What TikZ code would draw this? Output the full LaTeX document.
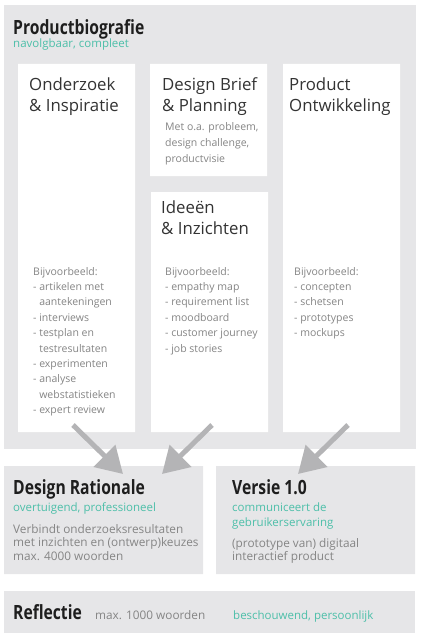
\documentclass[tikz,border=0pt]{standalone}
\usepackage{fontspec}
\setmainfont{Open Sans}
\newfontfamily\headfont[FakeStretch=0.8]{Open Sans}
\usetikzlibrary{arrows.meta}
\definecolor{bgray}{HTML}{E6E6E8}
\definecolor{bioteal}{HTML}{4DBFA9}
\definecolor{txtgray}{HTML}{858585}
\definecolor{arrgray}{HTML}{B4B4B6}
\definecolor{ink}{HTML}{1E1E1E}
\definecolor{darkink}{HTML}{333333}
\begin{document}
\begin{tikzpicture}[x=1pt,y=-1pt,line join=round,
    head/.style={anchor=base west,inner sep=0pt,text=ink,font=\headfont\bfseries\fontsize{19.6}{22}\selectfont},
    sub/.style={anchor=base west,inner sep=0pt,text=bioteal,font=\fontsize{11.5}{15}\selectfont},
    boxtitle/.style={anchor=base west,inner sep=0pt,text=darkink,font=\fontsize{16.8}{21}\selectfont},
    listtext/.style={anchor=base west,inner sep=0pt,text=txtgray,font=\fontsize{10.5}{15}\selectfont},
    bodytext/.style={anchor=base west,inner sep=0pt,text=txtgray,font=\fontsize{11.8}{14}\selectfont},
    arrow/.style={arrgray,line width=5pt,-{Triangle[length=26pt,width=30pt]}}]
\useasboundingbox (0,0) rectangle (420,639);
% Productbiografie
\fill[bgray] (4,5) rectangle (416,449);
\fill[white] (18,64) rectangle (135,432)
             (150,64) rectangle (267,176)
             (151,192) rectangle (268,432)
             (283,64) rectangle (400,432);
\node[head] (bio) at (13,35) {Productbiografie};
\node[sub] (bio-sub) at (13,48) {navolgbaar, compleet};
\node[boxtitle] (oi-a) at (29,91) {Onderzoek};
\node[boxtitle] (oi-b) at (29,112) {\& Inspiratie};
\node[boxtitle] (db-a) at (162,91) {Design Brief};
\node[boxtitle] (db-b) at (162,112) {\& Planning};
\node[boxtitle] (ii-a) at (161,213) {Idee\"en};
\node[boxtitle] (ii-b) at (161,234) {\& Inzichten};
\node[boxtitle] (po-a) at (289,91) {Product};
\node[boxtitle] (po-b) at (289,112) {Ontwikkeling};
\foreach \t [count=\i from 0] in {{Met o.a. probleem,}, {design challenge,}, productvisie}
  \node[listtext] (db-\i) at (165,131+15.6*\i) {\t};
\foreach \t [count=\i from 0] in {Bijvoorbeeld:, - artikelen met, \phantom{- }aantekeningen,
    - interviews, - testplan en, \phantom{- }testresultaten, - experimenten, - analyse,
    \phantom{- }webstatistieken, - expert review}
  \node[listtext] (oi-\i) at (33,275+15.4*\i) {\t};
\foreach \t [count=\i from 0] in {Bijvoorbeeld:, - empathy map, - requirement list,
    - moodboard, - customer journey, - job stories}
  \node[listtext] (ii-\i) at (165,275+15.4*\i) {\t};
\foreach \t [count=\i from 0] in {Bijvoorbeeld:, - concepten, - schetsen,
    - prototypes, - mockups}
  \node[listtext] (po-\i) at (294,275+15.4*\i) {\t};
% Design Rationale en Versie 1.0
\fill[bgray] (4,466) rectangle (203,574)
             (216,466) rectangle (415,574);
\node[head] (dr) at (13,494) {Design Rationale};
\node[sub] (dr-sub) at (13,511) {overtuigend, professioneel};
\foreach \t [count=\i from 0] in {Verbindt onderzoeksresultaten,
    met inzichten en (ontwerp)keuzes, max. 4000 woorden}
  \node[bodytext] (dr-\i) at (13,533+13.5*\i) {\t};
\node[head] (v1) at (232,494) {Versie 1.0};
\node[sub] (v1-sub-a) at (232,511) {communiceert de};
\node[sub] (v1-sub-b) at (232,526) {gebruikerservaring};
\node[bodytext] (v1-a) at (232,547) {(prototype van) digitaal};
\node[bodytext] (v1-b) at (232,560) {interactief product};
% Reflectie
\fill[bgray] (4,591) rectangle (415,633);
\node[head] (refl) at (13,619) {Reflectie};
\node[bodytext] (refl-max) at (95,619) {max. 1000 woorden};
\node[sub] (refl-sub) at (233,619) {beschouwend, persoonlijk};
% pijlen
\coordinate (a1s) at (73,425);  \coordinate (a1e) at (123,474);
\coordinate (a2s) at (212,425); \coordinate (a2e) at (162,474);
\coordinate (a3s) at (348,425); \coordinate (a3e) at (298,474);
\draw[arrow] (a1s) -- (a1e);
\draw[arrow] (a2s) -- (a2e);
\draw[arrow] (a3s) -- (a3e);
\end{tikzpicture}
\end{document}
